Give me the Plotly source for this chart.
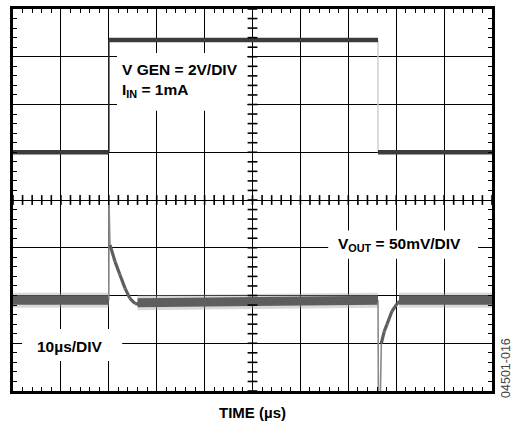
import numpy as np
import plotly.graph_objects as go

# ---- data (time in µs, levels in scope divisions, 0 = screen centre) ----
vgen_t = [0, 20.0, 20.0, 76.2, 76.2, 100]
vgen_div = [1.0, 1.0, 3.35, 3.35, 1.0, 1.0]

vout_t = [0, 20.0, 20.05, 20.25, 21.3, 22.3, 23.4, 24.4, 25.5, 27.1, 30.1, 33.0,
          76.2, 76.3, 76.6, 76.9, 77.5, 78.1, 79.1, 80.2, 81.2, 100]
vout_div = [-2.1, -2.1, -0.1, -0.94, -1.29, -1.56, -1.85, -2.06, -2.17, -2.19, -2.17, -2.1,
            -2.1, -4.6, -4.6, -3.0, -2.75, -2.6, -2.33, -2.17, -2.08, -2.1]

# flat (noisy) baseline stretches of V_OUT
band_t = [0, 20.0, None, 26.0, 76.2, None, 80.6, 100]
band_div = [-2.1, -2.1, None, -2.15, -2.1, None, -2.1, -2.1]

x_range = [0, 100]
y_range = [-4, 4]

fig = go.Figure()


def split_segments(t, v, keep):
    xs, ys = [], []
    for i in range(len(t) - 1):
        if keep(t[i], v[i], t[i + 1], v[i + 1]):
            xs += [t[i], t[i + 1], None]
            ys += [v[i], v[i + 1], None]
    return xs, ys


def is_fast(t0, v0, t1, v1):
    return t1 == t0 or abs((v1 - v0) / (t1 - t0)) > 3


# V_OUT noisy band (fringe + core)
fig.add_trace(go.Scatter(x=band_t, y=band_div, mode="lines", connectgaps=False,
                         line=dict(color="rgba(160,160,160,0.4)", width=15),
                         hoverinfo="skip", showlegend=False))
fig.add_trace(go.Scatter(x=band_t, y=band_div, mode="lines", connectgaps=False,
                         line=dict(color="#5e5e5e", width=9),
                         hoverinfo="skip", showlegend=False))
# V_OUT fast edges (faint) and slow recoveries (thick)
fx, fy = split_segments(vout_t, vout_div, is_fast)
fig.add_trace(go.Scatter(x=fx, y=fy, mode="lines", line=dict(color="#8a8a8a", width=1.6),
                         hoverinfo="skip", showlegend=False))
sx, sy = split_segments(vout_t, vout_div, lambda a, b, c, d: not is_fast(a, b, c, d))
fig.add_trace(go.Scatter(x=sx, y=sy, mode="lines", line=dict(color="#5e5e5e", width=3.2),
                         hoverinfo="skip", showlegend=False))

# V GEN: rising edge dark, falling edge faint, plateaus thick
rx, ry = split_segments(vgen_t, vgen_div, lambda a, b, c, d: d > b)
fig.add_trace(go.Scatter(x=rx, y=ry, mode="lines", line=dict(color="#222222", width=1.6),
                         hoverinfo="skip", showlegend=False))
dx, dy = split_segments(vgen_t, vgen_div, lambda a, b, c, d: d < b)
fig.add_trace(go.Scatter(x=dx, y=dy, mode="lines", line=dict(color="#cfcfcf", width=1.4),
                         hoverinfo="skip", showlegend=False))
px, py = split_segments(vgen_t, vgen_div, lambda a, b, c, d: d == b)
fig.add_trace(go.Scatter(x=px, y=py, mode="lines", line=dict(color="#3c3c3c", width=4.5),
                         hoverinfo="skip", showlegend=False))

# centre-line minor ticks
xc = np.arange(x_range[0], x_range[1] + 0.01, 2)
yc = np.arange(y_range[0], y_range[1] + 0.01, 0.2)
fig.add_trace(go.Scatter(x=xc, y=np.zeros_like(xc), mode="markers",
                         marker=dict(symbol="line-ns", size=7, line=dict(color="black", width=1.6)),
                         hoverinfo="skip", showlegend=False))
fig.add_trace(go.Scatter(x=np.full_like(yc, 50), y=yc, mode="markers",
                         marker=dict(symbol="line-ew", size=7, line=dict(color="black", width=1.6)),
                         hoverinfo="skip", showlegend=False))

axis_common = dict(showgrid=True, gridcolor="black", gridwidth=1.4, zeroline=False,
                   showline=True, linecolor="black", linewidth=2.5, mirror="ticks",
                   ticks="inside", ticklen=4, tickcolor="black", tickwidth=1.3,
                   showticklabels=False, fixedrange=True)
fig.update_xaxes(range=x_range, dtick=10, tick0=0,
                 minor=dict(dtick=2, ticks="inside", ticklen=4, tickcolor="black", tickwidth=1.3, showgrid=False),
                 **axis_common)
fig.update_yaxes(range=y_range, dtick=1, tick0=0,
                 minor=dict(dtick=0.2, ticks="inside", ticklen=4, tickcolor="black", tickwidth=1.3, showgrid=False),
                 **axis_common)

# white label boxes
boxes = [(21.7, 48.9, 3.08, 1.87), (65.8, 97.1, -0.64, -1.23), (1.9, 22.8, -2.70, -3.37)]
for x0, x1, y0, y1 in boxes:
    fig.add_shape(type="rect", x0=x0, x1=x1, y0=y0, y1=y1, xref="x", yref="y",
                  fillcolor="white", line=dict(width=0), layer="above")

lab_font = dict(family="Liberation Sans, Arial", size=15.5, color="black")
fig.add_annotation(x=22.3, y=2.5, xref="x", yref="y", xanchor="left", yanchor="middle",
                   align="left", showarrow=False, font=lab_font,
                   text="<b>V GEN = 2V/DIV<br>I<sub>IN</sub> = 1mA</b>")
fig.add_annotation(x=67.5, y=-0.93, xref="x", yref="y", xanchor="left", yanchor="middle",
                   showarrow=False, font=lab_font,
                   text="<b>V<sub>OUT</sub> = 50mV/DIV</b>")
fig.add_annotation(x=11.8, y=-3.06, xref="x", yref="y", xanchor="center", yanchor="middle",
                   showarrow=False, font=lab_font, text="<b>10µs/DIV</b>")
fig.add_annotation(x=0.5, y=0, xref="paper", yref="paper", yshift=-21,
                   xanchor="center", yanchor="middle", showarrow=False,
                   font=dict(family="Liberation Sans, Arial", size=15, color="black"),
                   text="<b>TIME (µs)</b>")
fig.add_annotation(x=1.029, y=0.06, xref="paper", yref="paper", textangle=-90,
                   xanchor="center", yanchor="middle", showarrow=False,
                   font=dict(family="Liberation Sans, Arial", size=12.5, color="#444"),
                   text="04501-016")

fig.update_layout(width=514, height=426, margin=dict(l=13, r=22, t=6, b=35),
                  paper_bgcolor="white", plot_bgcolor="white", showlegend=False)

fig.write_html("out.html", config={"displayModeBar": False},
               post_script="document.body.style.margin='0';document.body.style.padding='0';")
